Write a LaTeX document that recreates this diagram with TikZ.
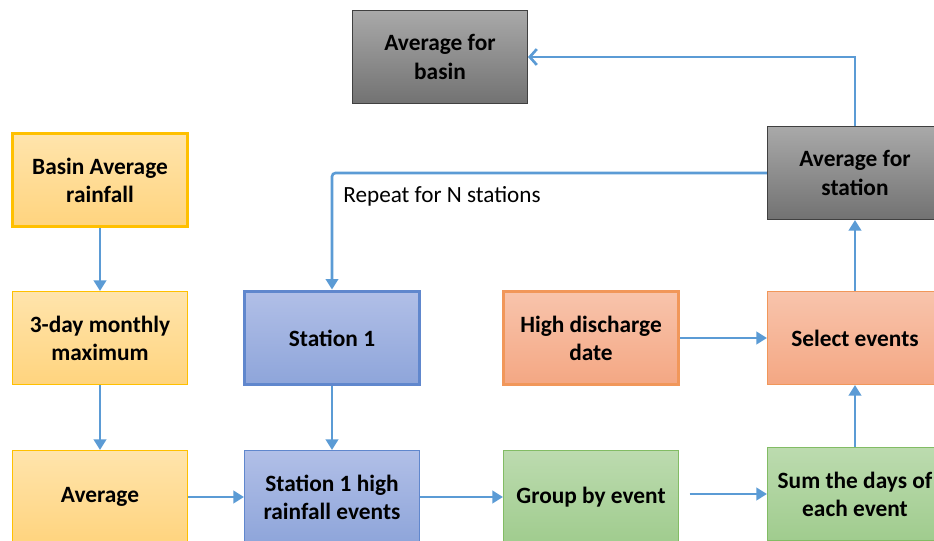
\documentclass[tikz,border=0pt]{standalone}
\usepackage{fontspec}
\setmainfont{Carlito}
\usetikzlibrary{arrows.meta}
\definecolor{linkBlue}{HTML}{5B9BD5}
\definecolor{goldLine}{HTML}{FFC000}
\definecolor{blueLine}{HTML}{4472C4}
\definecolor{orangeLine}{HTML}{ED7D31}
\definecolor{greenLine}{HTML}{82BC64}
\definecolor{grayLine}{HTML}{404040}
\definecolor{yellowTop}{HTML}{FFE4AC}
\definecolor{yellowBot}{HTML}{FFD47E}
\definecolor{blueTop}{HTML}{B1BFE7}
\definecolor{blueBot}{HTML}{8EA5DA}
\definecolor{orangeTop}{HTML}{F8C4AC}
\definecolor{orangeBot}{HTML}{F4A783}
\definecolor{greenTop}{HTML}{BCDBAF}
\definecolor{greenBot}{HTML}{A0CC8E}
\definecolor{grayTop}{HTML}{A9A9A9}
\definecolor{grayBot}{HTML}{727272}
\begin{document}
\begin{tikzpicture}[x=0.02cm, y=-0.02cm,
    boxStyle/.style={rectangle, minimum width=3.5cm, minimum height=1.86cm, align=center,
        font=\fontsize{13.3}{16}\selectfont\bfseries, line width=0.6pt},
    thickBox/.style={line width=2.2pt},
    yellowBox/.style={boxStyle, draw=goldLine, top color=yellowTop, bottom color=yellowBot},
    blueBox/.style={boxStyle, draw=blueLine!85, top color=blueTop, bottom color=blueBot},
    orangeBox/.style={boxStyle, draw=orangeLine!80, top color=orangeTop, bottom color=orangeBot},
    greenBox/.style={boxStyle, draw=greenLine, top color=greenTop, bottom color=greenBot},
    grayBox/.style={boxStyle, draw=grayLine, top color=grayTop, bottom color=grayBot},
    link/.style={draw=linkBlue, line width=1.5pt, -{Triangle[length=6pt, width=7pt]}},
    openLink/.style={draw=linkBlue, line width=1.5pt, -{Straight Barb[length=4pt, width=9pt]}},
    noteStyle/.style={font=\fontsize{13.2}{15}\selectfont}]
    \clip (0,0) rectangle (934,541);

    \node[grayBox](basinAvg) at (440,57) {Average for\\basin};
    \node[yellowBox, thickBox](rainfall) at (100,180) {Basin Average\\rainfall};
    \node[yellowBox](maxDay) at (100,338) {3-day monthly\\maximum};
    \node[yellowBox](average) at (100,497) {Average};
    \node[blueBox, thickBox](station) at (332,338) {Station 1};
    \node[blueBox](events) at (332,497) {Station 1 high\\rainfall events};
    \node[orangeBox, thickBox](discharge) at (591,338) {High discharge\\date};
    \node[greenBox](group) at (591,497) {Group by event};
    \node[orangeBox](select) at (855,338) {Select events};
    \node[greenBox](sumDays) at (855,494) {Sum the days of\\each event};
    \node[grayBox](stationAvg) at (855,173) {Average for\\station};
    \node[noteStyle](repeat) at (442,196) {Repeat for N stations};

    \draw[link] (rainfall) -- (maxDay);
    \draw[link] (maxDay) -- (average);
    \draw[link] (average) -- (events);
    \draw[link] (station) -- (events);
    \draw[link] (events) -- (group);
    \draw[link, shorten <=6pt] (sumDays -| group.east) -- (sumDays.west);
    \draw[link] (sumDays) -- (select);
    \draw[link] (discharge) -- (select);
    \draw[link] (select) -- (stationAvg);
    \draw[openLink] (stationAvg.north) |- (basinAvg.east);
    \draw[link, rounded corners=2pt] (stationAvg.west) -| (station.north);
\end{tikzpicture}
\end{document}
